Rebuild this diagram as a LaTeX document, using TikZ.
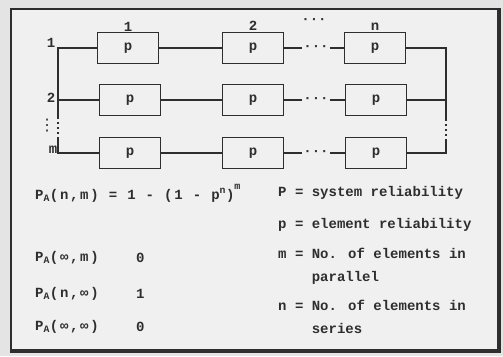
\documentclass[tikz,border=0pt]{standalone}
\usepackage{fontspec}
\setmainfont{Liberation Mono}
\newfontfamily\symfont{DejaVu Sans}
\usepackage{xcolor}
\usepackage{tikz}
\usetikzlibrary{positioning}

\definecolor{ink}{HTML}{2E2E2E}
\definecolor{paper}{HTML}{F0F0F0}
\definecolor{rim}{HTML}{E4E4E4}

\begin{document}
\begin{tikzpicture}[
            x=1pt, y=-1pt,
            every node/.style={font=\bfseries\fontsize{14}{23}\selectfont, text=ink},
            elem/.style={draw=ink, line width=1.6pt, minimum width=61pt, minimum height=31pt, inner sep=0pt},
            wire/.style={draw=ink, line width=1.6pt},
            gapdots/.style={inner sep=1pt},
            lbl/.style={anchor=west, inner sep=0pt, align=left},
            frm/.style={lbl, font=\bfseries\fontsize{14}{23}\selectfont\addfontfeature{LetterSpace=12}},
        ]
            % sheet and frame
            \fill[rim] (0,0) rectangle (503,356);
            \useasboundingbox (0,0) rectangle (503,356);
            \fill[paper] (11,9) rectangle (499,351);
            \draw[ink, line width=1.5pt] (11,351) -- (11,9) -- (499,9);
            \draw[ink, line width=4pt] (499,8) -- (499,351) -- (10,351);

            % elements
            \node[elem] (b11) at (128,48) {p};
            \node[elem] (b12) at (253,48) {p};
            \node[elem] (b13) at (375,48) {p};
            \node[elem] (b21) at (130,100) {p};
            \node[elem] (b22) at (253,100) {p};
            \node[elem] (b23) at (376,100) {p};
            \node[elem] (b31) at (130,153) {p};
            \node[elem] (b32) at (253,153) {p};
            \node[elem] (b33) at (376,153) {p};
            \node[gapdots] (d1) at (316,48) {···};
            \node[gapdots] (d2) at (316,100) {···};
            \node[gapdots] (d3) at (316,153) {···};

            % buses
            \coordinate (l1) at (58,48);
            \coordinate (l2) at (58,100);
            \coordinate (l3) at (58,153);
            \coordinate (lu) at (58,117);
            \coordinate (ld) at (58,137);
            \coordinate (r1) at (446,48);
            \coordinate (r2) at (446,100);
            \coordinate (r3) at (446,153);
            \coordinate (ru) at (446,119);
            \coordinate (rd) at (446,139);

            \draw[wire] (b11) -- (l1) -- (lu);
            \draw[wire, dash pattern=on 2pt off 3pt] (lu) -- (ld);
            \draw[wire] (ld) -- (l3) -- (b31);
            \draw[wire] (l2) -- (b21);
            \draw[wire] (b13) -- (r1) -- (ru);
            \draw[wire, dash pattern=on 2pt off 3pt] (ru) -- (rd);
            \draw[wire] (rd) -- (r3) -- (b33);
            \draw[wire] (b23) -- (r2);
            \draw[wire] (b11) -- (b12) -- (d1) -- (b13);
            \draw[wire] (b21) -- (b22) -- (d2) -- (b23);
            \draw[wire] (b31) -- (b32) -- (d3) -- (b33);

            % indices
            \node[above=0pt of b11, inner sep=0pt] (c1) {1};
            \node[above=1pt of b12, inner sep=0pt] (c2) {2};
            \node[above=1pt of b13, inner sep=0pt] (cn) {n};
            \node (cdots) at (314,21) {···};
            \node[inner sep=0pt] (w1) at (51,43) {1};
            \node[inner sep=0pt] (w2) at (51,98) {2};
            \node[inner sep=0pt] (wm) at (53,150) {m};
            \node[inner sep=0pt, font=\symfont\fontsize{16}{16}\selectfont] (wdots) at (47,126) {⋮};

            % formulas
            \node[frm] (fnm) at (35,193) {P\textsubscript{A}(n,m) = 1 - (1 - p\textsuperscript{n})\raisebox{1.3ex}{\fontsize{10}{10}\selectfont m}};
            \node[frm] (fim) at (35,258) {P\textsubscript{A}(∞,m)};
            \node[frm] (vim) at (136,258) {0};
            \node[frm] (fni) at (35,294) {P\textsubscript{A}(n,∞)};
            \node[frm] (vni) at (136,294) {1};
            \node[frm] (fii) at (35,327) {P\textsubscript{A}(∞,∞)};
            \node[frm] (vii) at (136,327) {0};

            % legend
            \node[lbl] (sys) at (278,193) {P = system reliability};
            \node[lbl] (elm) at (278,225) {p = element reliability};
            \node[lbl] (par) at (278,266) {m = No. of elements in\\\phantom{m = }parallel};
            \node[lbl] (ser) at (278,317) {n = No. of elements in\\\phantom{n = }series};
        \end{tikzpicture}
\end{document}
